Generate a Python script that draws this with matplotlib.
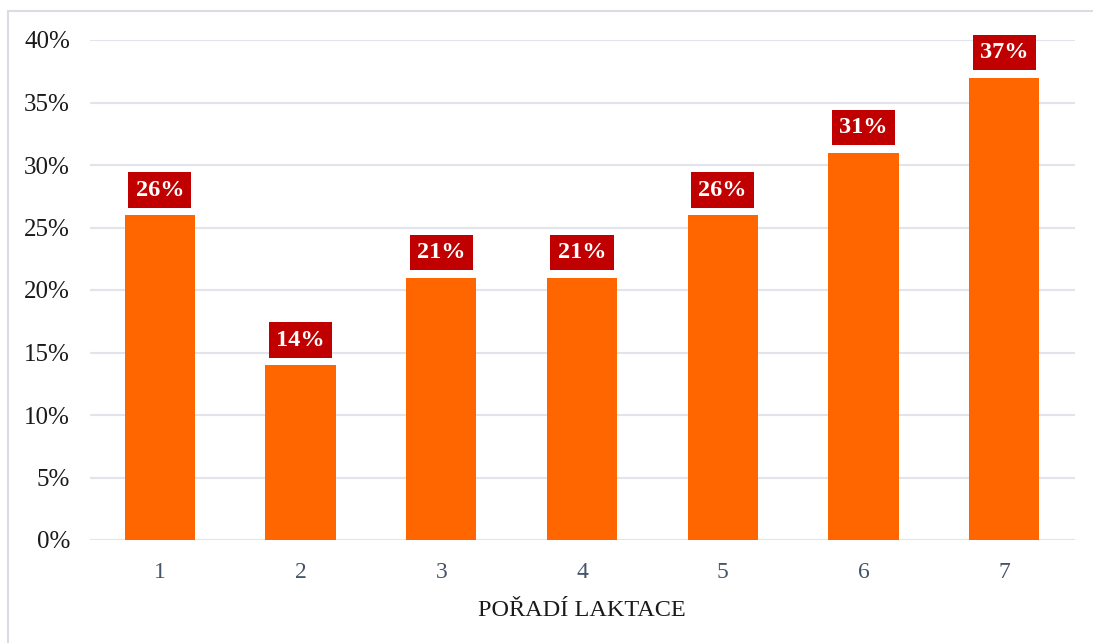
import matplotlib
matplotlib.use("Agg")
import matplotlib.pyplot as plt
from matplotlib.patches import Rectangle

categories = ["1", "2", "3", "4", "5", "6", "7"]
values = [26, 14, 21, 21, 26, 31, 37]
yticks = [0, 5, 10, 15, 20, 25, 30, 35, 40]
ytick_labels = [f"{v}%" for v in yticks]
xlabel = "POŘADÍ LAKTACE"

plt.rcParams['font.family'] = ['Liberation Serif', 'DejaVu Serif']

fig = plt.figure(figsize=(10.93, 6.43), dpi=100)
fig.patch.set_facecolor("white")
# outer border (top/left visible)
fig.add_artist(Rectangle((8/1093, -0.05), 1.2, (643-11)/643 + 0.05, transform=fig.transFigure,
                         fill=False, edgecolor="#D9DCE3", linewidth=1.5))

ax = fig.add_axes([89.5/1093, (643-540)/643, (1074.5-89.5)/1093, 500/643])
x = list(range(len(categories)))
ax.bar(x, values, width=0.5, color="#FF6600", zorder=3)
ax.set_xlim(-0.5, len(categories)-0.5)
ax.set_ylim(0, 40)
ax.set_yticks(yticks)
ax.set_yticklabels(ytick_labels, fontsize=18, color="#1a1a1a")
ax.set_xticks(x)
ax.set_xticklabels(categories, fontsize=17, color="#44546A")
ax.tick_params(axis="both", length=0)
ax.tick_params(axis="y", pad=14)
ax.tick_params(axis="x", pad=16)
ax.grid(axis="y", color="#E1E4EA", linewidth=1.5, zorder=0)
for s in ax.spines.values():
    s.set_visible(False)
ax.set_xlabel(xlabel, fontsize=17.5, color="#1a1a1a", labelpad=12)

for xi, v in zip(x, values):
    ax.annotate(f"{v}%", xy=(xi, v), xytext=(0, 18), textcoords="offset points",
                ha="center", va="center", fontsize=17.5, fontweight="bold", color="white",
                bbox=dict(boxstyle="square,pad=0.3", facecolor="#C00000", edgecolor="none"),
                zorder=5)

fig.savefig("out.png", dpi=100)
